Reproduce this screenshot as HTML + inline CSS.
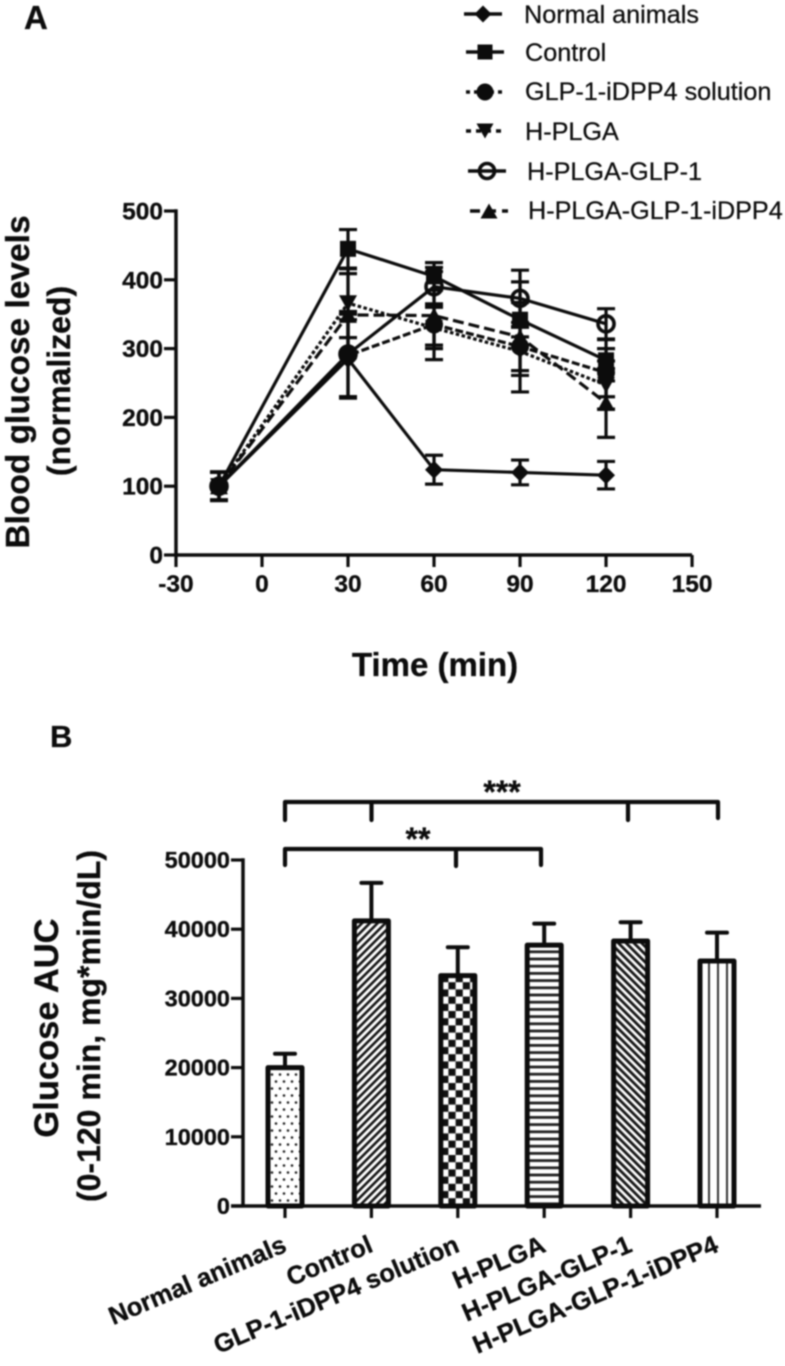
<!DOCTYPE html>
<html lang="en">
<head>
<meta charset="utf-8">
<title>Blood glucose and glucose AUC charts</title>
<style>
html,body{margin:0;padding:0;background:#fff;}
svg{display:block;filter:blur(0.7px);}
text{font-family:"Liberation Sans",sans-serif;fill:#0c0c0c;}
.tick{font-weight:bold;font-size:24.5px;stroke:#0c0c0c;stroke-width:0.3px;}
.tick-b{font-size:23.5px;}
.tick-rot{font-size:25.5px;}
.title{font-weight:bold;stroke:#0c0c0c;stroke-width:0.3px;}
.legend{font-size:25.2px;stroke:#0c0c0c;stroke-width:0.25px;}
</style>
</head>
<body>
<svg id="figure" xmlns="http://www.w3.org/2000/svg" width="785" height="1366" viewBox="0 0 785 1366">
<defs>
<pattern id="p-dots" patternUnits="userSpaceOnUse" width="16" height="14"><circle cx="4" cy="3.5" r="1.3" fill="#222"/><circle cx="12" cy="3.5" r="1.3" fill="#222"/><circle cx="0" cy="10.5" r="1.3" fill="#222"/><circle cx="8" cy="10.5" r="1.3" fill="#222"/><circle cx="16" cy="10.5" r="1.3" fill="#222"/></pattern>
<pattern id="p-fwd" patternUnits="userSpaceOnUse" width="5.5" height="5.5" patternTransform="rotate(45)"><rect width="5.5" height="5.5" fill="#fff"/><rect x="0" width="2.6" height="5.5" fill="#151515"/></pattern>
<pattern id="p-check" patternUnits="userSpaceOnUse" width="14.4" height="14.4" x="2" y="3"><rect width="14.4" height="14.4" fill="#fff"/><rect width="7.2" height="7.2" fill="#111"/><rect x="7.2" y="7.2" width="7.2" height="7.2" fill="#111"/></pattern>
<pattern id="p-horiz" patternUnits="userSpaceOnUse" width="7.2" height="7.2"><rect width="7.2" height="7.2" fill="#fff"/><rect width="7.2" height="2.8" fill="#222"/></pattern>
<pattern id="p-back" patternUnits="userSpaceOnUse" width="5.5" height="5.5" patternTransform="rotate(-45)"><rect width="5.5" height="5.5" fill="#fff"/><rect x="0" width="2.8" height="5.5" fill="#151515"/></pattern>
<pattern id="p-vert" patternUnits="userSpaceOnUse" width="9" height="9" x="2.5"><rect width="9" height="9" fill="#fff"/><rect x="3.5" width="2" height="9" fill="#333"/></pattern>
</defs>

<text class="title" x="24" y="29" font-size="33">A</text>
<text class="title" x="50" y="747" font-size="31">B</text>

<text class="title" font-size="33.5" text-anchor="middle" transform="translate(29,382) rotate(-90)">Blood glucose levels</text>
<text class="title" font-size="32" text-anchor="middle" transform="translate(70,381) rotate(-90)">(normalized)</text>
<text class="title" font-size="33" text-anchor="middle" x="435" y="676">Time (min)</text>
<text class="title" font-size="34.5" text-anchor="middle" transform="translate(58,1028) rotate(-90)">Glucose AUC</text>
<text class="title" font-size="32" text-anchor="middle" transform="translate(100,1026) rotate(-90)">(0-120 min, mg*min/dL)</text>

<g id="chart-a"></g>
<g id="legend-a"></g>
<g id="chart-b"></g>
</svg>

<script>
// Panel A data
const timePoints = [-15, 30, 60, 90, 120];
const normalValues = [100, 285, 124, 120, 116];
const normalErrors = [21, 57, 21, 18, 20];
const controlValues = [100, 445, 405, 342, 283];
const controlErrors = [20, 28, 20, 25, 30];
const solutionValues = [100, 290, 335, 303, 265];
const solutionErrors = [20, 60, 30, 35, 35];
const hplgaValues = [100, 366, 330, 296, 247];
const hplgaErrors = [20, 50, 30, 35, 35];
const glp1Values = [100, 292, 390, 373, 336];
const glp1Errors = [20, 62, 28, 41, 22];
const idpp4Values = [100, 349, 348, 317, 221];
const idpp4Errors = [20, 60, 64, 80, 50];
const xTicksA = [-30, 0, 30, 60, 90, 120, 150];
const yTicksA = [0, 100, 200, 300, 400, 500];

// Panel B data
const barCategories = ['Normal animals', 'Control', 'GLP-1-iDPP4 solution', 'H-PLGA', 'H-PLGA-GLP-1', 'H-PLGA-GLP-1-iDPP4'];
const barValues = [20000, 41200, 33300, 37700, 38300, 35400];
const barErrors = [2000, 5500, 4100, 3100, 2700, 4100];
const yTicksB = [0, 10000, 20000, 30000, 40000, 50000];

const NS = 'http://www.w3.org/2000/svg';
const INK = '#0c0c0c';
function xA(t){ return 262 + t * 2.867; }
function yA(v){ return 555 - v * 0.688; }
function xB(i){ return 285 + i * 86.4; }
function yB(v){ return 1206 - v * 0.00692; }

function make(tag, attrs, parent){
  const n = document.createElementNS(NS, tag);
  for (const k in attrs) n.setAttribute(k, attrs[k]);
  parent.appendChild(n);
  return n;
}
function stroke(w, extra){
  return Object.assign({stroke: INK, 'stroke-width': w, fill: 'none'}, extra || {});
}
function marker(kind, cx, cy, r, parent){
  let n;
  if (kind === 'diamond') {
    n = make('polygon', {points: [cx, cy - r - 1, cx + r + 1, cy, cx, cy + r + 1, cx - r - 1, cy].join(' '), fill: INK}, parent);
  } else if (kind === 'square') {
    n = make('rect', {x: cx - r, y: cy - r, width: 2 * r, height: 2 * r, fill: INK}, parent);
  } else if (kind === 'circle') {
    n = make('circle', {cx: cx, cy: cy, r: r + 1, fill: INK}, parent);
  } else if (kind === 'down') {
    n = make('polygon', {points: [cx - r - 1, cy - r, cx + r + 1, cy - r, cx, cy + r].join(' '), fill: INK}, parent);
  } else if (kind === 'up') {
    n = make('polygon', {points: [cx - r - 1, cy + r, cx + r + 1, cy + r, cx, cy - r].join(' '), fill: INK}, parent);
  } else {
    n = make('circle', {cx: cx, cy: cy, r: r, fill: 'none', stroke: INK, 'stroke-width': 3.6}, parent);
  }
  return n;
}

const chartA = document.getElementById('chart-a');

// Axes panel A
const axisXA = make('line', Object.assign({x1: xA(-30), x2: xA(150), y1: yA(0), y2: yA(0)}, stroke(3.5)), chartA);


const axisYA = make('line', Object.assign({x1: xA(-30), x2: xA(-30), y1: yA(500) - 1.7, y2: yA(0) + 1.7}, stroke(3.5)), chartA);



xTicksA.forEach(function(t){
  const tick = make('line', Object.assign({x1: xA(t), x2: xA(t), y1: yA(0), y2: yA(0) + 12}, stroke(3.2)), chartA);
  
  
  const label = make('text', {x: xA(t), y: 592, 'text-anchor': 'middle', class: 'tick'}, chartA);
  label.textContent = String(t);
  
  
});
yTicksA.forEach(function(v){
  const tick = make('line', Object.assign({x1: xA(-30) - 12, x2: xA(-30), y1: yA(v), y2: yA(v)}, stroke(3.2)), chartA);
  
  
  const label = make('text', {x: xA(-30) - 13, y: yA(v) + 8.5, 'text-anchor': 'end', class: 'tick'}, chartA);
  label.textContent = String(v);
  
  
});

const seriesA = [
  {key: 'normal-animals', values: normalValues, errors: normalErrors, kind: 'diamond', dash: ''},
  {key: 'control', values: controlValues, errors: controlErrors, kind: 'square', dash: ''},
  {key: 'glp-1-idpp4-solution', values: solutionValues, errors: solutionErrors, kind: 'circle', dash: '8 3'},
  {key: 'h-plga', values: hplgaValues, errors: hplgaErrors, kind: 'down', dash: '3.5 2.5'},
  {key: 'h-plga-glp-1', values: glp1Values, errors: glp1Errors, kind: 'open', dash: ''},
  {key: 'h-plga-glp-1-idpp4', values: idpp4Values, errors: idpp4Errors, kind: 'up', dash: '11 5'}
];

seriesA.forEach(function(s){
  const g = make('g', {}, chartA);
  
  
  const pts = timePoints.map(function(t, i){ return xA(t) + ',' + yA(s.values[i]); }).join(' ');
  const attrs = stroke(3.2, {points: pts, 'stroke-linejoin': 'round'});
  if (s.dash) attrs['stroke-dasharray'] = s.dash;
  const line = make('polyline', attrs, g);
  
  
  timePoints.forEach(function(t, i){
    const x = xA(t), v = s.values[i], e = s.errors[i];
    const bar = make('path', Object.assign({d: 'M' + x + ' ' + yA(v + e) + 'V' + yA(v - e) + 'M' + (x - 9) + ' ' + yA(v + e) + 'H' + (x + 9) + 'M' + (x - 9) + ' ' + yA(v - e) + 'H' + (x + 9)}, stroke(3.2)), g);
    
    
    const m = marker(s.kind, x, yA(v), 8, g);
    
    
  });
});

// Legend
const legendLabels = ['Normal animals', 'Control', 'GLP-1-iDPP4 solution', 'H-PLGA', 'H-PLGA-GLP-1', 'H-PLGA-GLP-1-iDPP4'];
const legendA = document.getElementById('legend-a');
const legendRows = [
  {kind: 'diamond', dash: '', lx: 464, ly: 14, tx: 524, ty: 23},
  {kind: 'square', dash: '', lx: 466, ly: 52, tx: 525, ty: 61},
  {kind: 'circle', dash: '4 4', lx: 466, ly: 92, tx: 525, ty: 100},
  {kind: 'down', dash: '5 5', lx: 466, ly: 131, tx: 525, ty: 140},
  {kind: 'open', dash: '', lx: 468, ly: 171, tx: 527, ty: 180},
  {kind: 'up', dash: '10 6', lx: 470, ly: 211, tx: 528, ty: 219}
];
legendRows.forEach(function(r, i){
  const attrs = stroke(3.4, {x1: r.lx, x2: r.lx + 38, y1: r.ly, y2: r.ly});
  if (r.dash) attrs['stroke-dasharray'] = r.dash;
  const ln = make('line', attrs, legendA);
  
  
  const m = marker(r.kind, r.lx + 19, r.ly, 7.5, legendA);
  
  
  const t = make('text', {x: r.tx, y: r.ty, class: 'legend'}, legendA);
  t.textContent = legendLabels[i];
  
  
});

// Panel B
const chartB = document.getElementById('chart-b');
const fills = ['p-dots', 'p-fwd', 'p-check', 'p-horiz', 'p-back', 'p-vert'];
barCategories.forEach(function(c, i){
  const x = xB(i), top = yB(barValues[i]), errTop = yB(barValues[i] + barErrors[i]);
  const err = make('path', Object.assign({d: 'M' + x + ' ' + top + 'V' + errTop + 'M' + (x - 10) + ' ' + errTop + 'H' + (x + 10), 'stroke-linecap': 'round'}, stroke(4)), chartB);
  
  
  const bar = make('rect', {x: x - 17, y: top, width: 34, height: yB(0) - top, fill: 'url(#' + fills[i] + ')', stroke: INK, 'stroke-width': 5, 'stroke-linejoin': 'round'}, chartB);
  
  
  const tick = make('line', Object.assign({x1: x, x2: x, y1: yB(0), y2: yB(0) + 12}, stroke(3.2)), chartB);
  
  
  const label = make('text', {class: 'tick tick-rot', 'text-anchor': 'end', transform: 'translate(' + (x + 3) + ',1251) rotate(-23)'}, chartB);
  label.textContent = c;
  
  
});
const axisXB = make('line', Object.assign({x1: 231, x2: 761, y1: yB(0), y2: yB(0)}, stroke(3.5)), chartB);


const axisYB = make('line', Object.assign({x1: 243, x2: 243, y1: yB(50000) - 1.7, y2: yB(0)}, stroke(3.5)), chartB);


yTicksB.forEach(function(v){
  const tick = make('line', Object.assign({x1: 231, x2: 243, y1: yB(v), y2: yB(v)}, stroke(3.2)), chartB);
  
  
  const label = make('text', {x: 230, y: yB(v) + 8, 'text-anchor': 'end', class: 'tick tick-b'}, chartB);
  label.textContent = String(v);
  
  
});

// Significance brackets
const upperBracket = make('path', Object.assign({d: 'M285 820V802H718V818M371.5 802V820M628 802V820', 'stroke-linejoin': 'round', 'stroke-linecap': 'round'}, stroke(4.2)), chartB);


const lowerBracket = make('path', Object.assign({d: 'M285 865V849H541V865M456 849V866', 'stroke-linejoin': 'round', 'stroke-linecap': 'round'}, stroke(4.2)), chartB);


const upperStars = make('text', {x: 502, y: 803, 'text-anchor': 'middle', class: 'title', 'font-size': 32}, chartB);
upperStars.textContent = '***';


const lowerStars = make('text', {x: 418, y: 850, 'text-anchor': 'middle', class: 'title', 'font-size': 32}, chartB);
lowerStars.textContent = '**';


</script>
</body>
</html>
